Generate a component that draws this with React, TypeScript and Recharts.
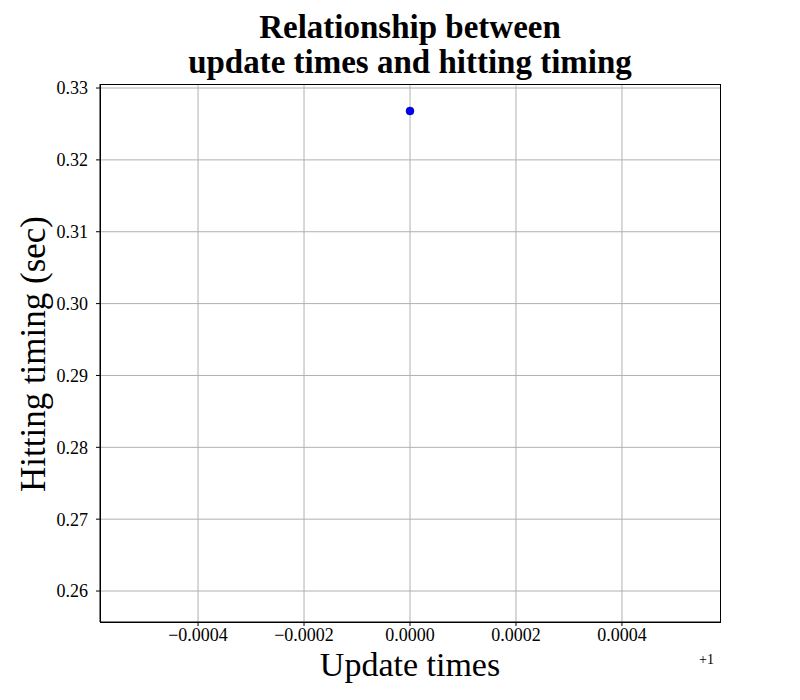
import { ScatterChart, Scatter, XAxis, YAxis, CartesianGrid } from "recharts";

const updateTimes = [1];
const hittingTiming = [0.3268];
const xTicks = [0.9996, 0.9998, 1, 1.0002, 1.0004];
const yTicks = [0.26, 0.27, 0.28, 0.29, 0.3, 0.31, 0.32, 0.33];

const points = updateTimes.map((x, i) => ({ x, y: hittingTiming[i] }));
const font = "'Liberation Serif', 'DejaVu Serif', serif";

const fmtX = (v: number) => {
  const d = v - 1;
  const s = Math.abs(d).toFixed(4);
  return d < -1e-9 ? "\u2212" + s : s;
};

export default function App() {
  return (
    <div style={{ position: "absolute", left: 0, top: 0, width: 800, height: 700, fontFamily: font, background: "#fff", color: "#000" }}>
      <div style={{ position: "absolute", top: 10, left: 0, width: 820, textAlign: "center", fontWeight: "bold", fontSize: 33, lineHeight: "35px" }}>
        Relationship between<br />update times and hitting timing
      </div>
      <ScatterChart width={800} height={700} margin={{ top: 84, right: 80, bottom: 0, left: 0 }}>
        <CartesianGrid stroke="#b0b0b0" strokeWidth={1} horizontalValues={yTicks} verticalValues={xTicks} />
        <XAxis
          type="number"
          dataKey="x"
          domain={[1 - 0.000585, 1 + 0.000585]}
          ticks={xTicks}
          tickFormatter={fmtX}
          height={78}
          axisLine={{ stroke: "#000" }}
          tickLine={{ stroke: "#000" }}
          tickSize={4}
          tick={{ fill: "#000", fontSize: 18, fontFamily: font }}
        />
        <YAxis
          type="number"
          dataKey="y"
          domain={[0.25569, 0.33056]}
          ticks={yTicks}
          tickFormatter={(v: number) => v.toFixed(2)}
          width={100}
          axisLine={{ stroke: "#000" }}
          tickLine={{ stroke: "#000" }}
          tickSize={4}
          tick={{ fill: "#000", fontSize: 18, fontFamily: font, dx: -6 }}
        />
        <Scatter data={points} fill="#0000ff" isAnimationActive={false}
          shape={(p: any) => <circle cx={p.cx} cy={p.cy} r={4} fill="#0000ff" stroke="#000080" strokeWidth={0.5} />} />
      </ScatterChart>
      <div style={{ position: "absolute", left: 100, top: 84, width: 619, height: 537, border: "1px solid #000", pointerEvents: "none" }} />
      <div style={{ position: "absolute", top: 646, left: 100, width: 620, textAlign: "center", fontSize: 34 }}>Update times</div>
      <div style={{ position: "absolute", top: 652, left: 699, fontSize: 14, color: "#000" }}>+1</div>
      <div style={{ position: "absolute", left: 34, top: 354, fontSize: 35, whiteSpace: "nowrap", transform: "translate(-50%, -50%) rotate(-90deg)" }}>
        Hitting timing (sec)
      </div>
    </div>
  );
}
